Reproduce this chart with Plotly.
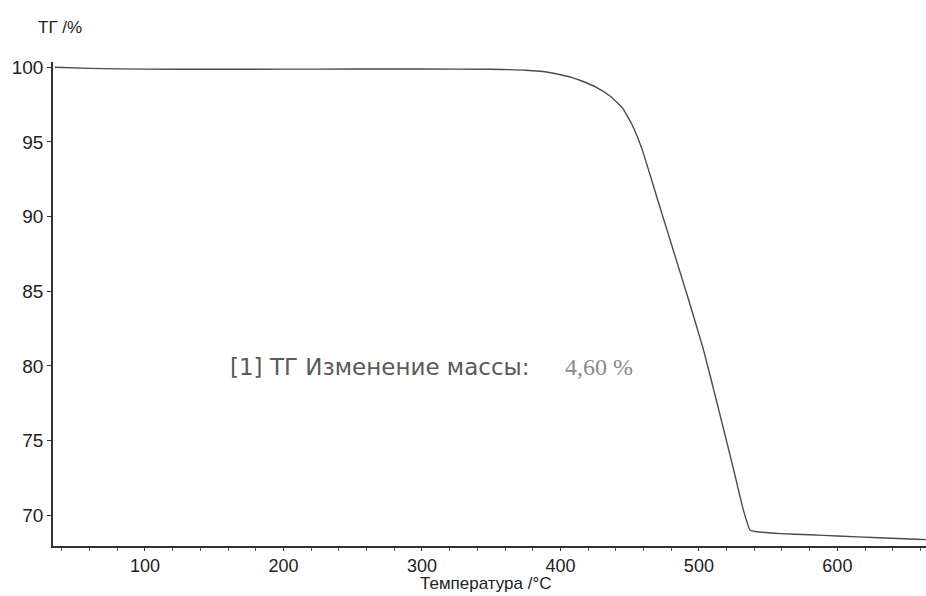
import plotly.graph_objects as go

# Temperature (°C) and mass (%)
temperature = [35, 60, 100, 150, 200, 250, 300, 350, 375, 390, 400, 408, 416, 426,
               436, 445, 452, 459, 470, 481, 492, 503, 514, 525, 532, 537, 541, 559,
               580, 600, 630, 657, 664]
mass = [100.0, 99.92, 99.87, 99.86, 99.87, 99.88, 99.88, 99.86, 99.8, 99.68, 99.5,
        99.32, 99.06, 98.65, 98.06, 97.25, 96.1, 94.5, 91.2, 87.9, 84.6, 81.2, 77.2,
        73.1, 70.4, 69.0, 68.92, 68.78, 68.7, 68.62, 68.5, 68.4, 68.38]

x_ticks = [100, 200, 300, 400, 500, 600]
y_ticks = [70, 75, 80, 85, 90, 95, 100]

label_main = "[1] ТГ Изменение массы:"
label_value = "4,60 %"
label_main_x = 270
label_value_x = 401.8
label_y = 79.95

fig = go.Figure()
fig.add_trace(go.Scatter(
    x=temperature, y=mass, mode="lines",
    line=dict(color="#4a4a4a", width=1.4, shape="spline", smoothing=0.4),
    showlegend=False, hoverinfo="skip"))

fig.update_layout(
    width=926, height=596,
    margin=dict(l=53, r=0, t=62, b=50),
    paper_bgcolor="white", plot_bgcolor="white",
    font=dict(family="Liberation Sans, Arial, sans-serif", color="#222", size=18),
    xaxis=dict(range=[33.6, 664], tickvals=x_ticks, showgrid=False, zeroline=False,
               showline=True, linecolor="#333", linewidth=1.5,
               ticks="outside", ticklen=3, tickcolor="#333",
               minor=dict(dtick=20, tick0=0, ticks="outside", ticklen=3, tickcolor="#555"),
               tickfont=dict(size=18, color="#222")),
    yaxis=dict(range=[67.95, 100.35], tickvals=y_ticks, showgrid=False, zeroline=False,
               showline=True, linecolor="#333", linewidth=1.5,
               ticks="outside", ticklen=4, tickcolor="#333",
               tickfont=dict(size=19, color="#222")),
    annotations=[
        dict(text="ТГ /%", xref="paper", yref="paper", x=-0.0195, y=1.072,
             xanchor="left", yanchor="middle", showarrow=False,
             font=dict(size=17, color="#222")),
        dict(text="Температура /°C", xref="paper", yref="paper", x=0.495, y=-0.1015,
             xanchor="center", yanchor="bottom", showarrow=False,
             font=dict(size=17, color="#222")),
        dict(text=label_main, x=label_main_x, y=label_y, xref="x", yref="y",
             xanchor="center", yanchor="middle", showarrow=False,
             font=dict(size=23, color="#5a5a5a", family="DejaVu Sans, Verdana, sans-serif")),
        dict(text=label_value, x=label_value_x, y=label_y, xref="x", yref="y",
             xanchor="left", yanchor="middle", showarrow=False,
             font=dict(size=24, color="#8a8a8a", family="Liberation Serif, Times New Roman, serif")),
    ],
)

fig.write_html("out.html",
               config={"displayModeBar": False},
               post_script="document.body.style.margin='0';document.body.style.overflow='hidden';")
